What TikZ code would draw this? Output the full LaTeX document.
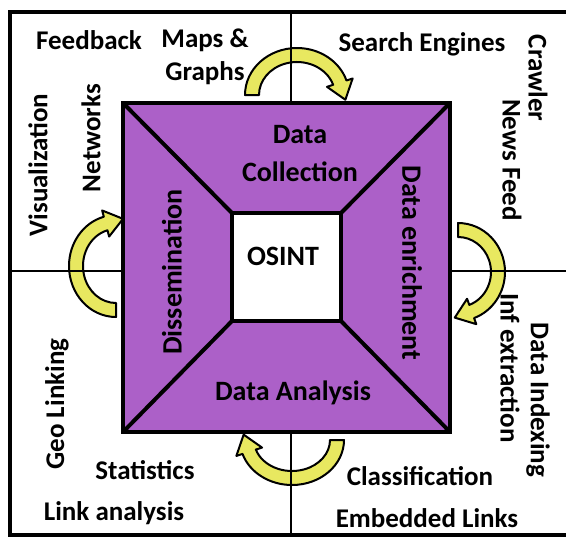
\documentclass[tikz,border=0pt]{standalone}
\usepackage{fontspec}
\setmainfont{Carlito}
\usetikzlibrary{calc}

\definecolor{petal}{RGB}{172,96,200}
\definecolor{arrowfill}{RGB}{232,232,96}

\tikzset{
  lbl/.style={font=\bfseries\fontsize{27}{30}\selectfont, inner sep=0pt, align=center},
  inlbl/.style={lbl, font=\bfseries\fontsize{28}{30}\selectfont},
  uptext/.style={lbl, rotate=90},
  downtext/.style={lbl, rotate=-90},
  frame/.style={line width=3.5pt},
  divider/.style={line width=2.2pt},
  yarrow/.style={fill=arrowfill, draw=black, line width=2pt, line join=round},
  petalbox/.style={draw=black, line width=4pt, fill=petal, minimum width=327pt,
    minimum height=329pt, inner sep=0pt, outer sep=0pt},
  corebox/.style={draw=black, line width=4pt, fill=white, minimum width=109pt,
    minimum height=108pt, inner sep=0pt, outer sep=0pt},
  diag/.style={line width=4pt},
}

% curved block arrow along an elliptic arc
% #1,#2 centre; #3,#4 radii of the band's middle; #5 tail angle;
% #6 angle where the shaft ends; #7 turn of the head (-90 clockwise, 90 counter-clockwise)
\newcommand\bentarrow[7]{%
  \coordinate (ctr) at (#1,#2);
  \coordinate (so) at ($(ctr)+({(#3+7)*cos(#5)},{(#4+7)*sin(#5)})$);
  \coordinate (eo) at ($(ctr)+({(#3+7)*cos(#6)},{(#4+7)*sin(#6)})$);
  \coordinate (ei) at ($(ctr)+({(#3-7)*cos(#6)},{(#4-7)*sin(#6)})$);
  \coordinate (em) at ($(eo)!0.5!(ei)$);
  \coordinate (wo) at ($(em)!13.5pt!(eo)$);
  \coordinate (wi) at ($(em)!13.5pt!(ei)$);
  \coordinate (tip) at ($(em)!18pt!#7:(eo)$);
  \path[yarrow] (so) arc[start angle=#5, end angle=#6, x radius={#3+7}, y radius={#4+7}]
    -- (wo) -- (tip) -- (wi) -- (ei)
    arc[start angle=#6, end angle=#5, x radius={#3-7}, y radius={#4-7}] -- cycle;
}

\begin{document}
\begin{tikzpicture}[x=1pt, y=1pt]
  \useasboundingbox (0,0) rectangle (566,-539);
  \clip (0,0) rectangle (566,-539);
  \fill[white] (0,0) rectangle (566,-539);

  % frame, open on the right
  \draw[frame] (570,-12) -- (10,-12) -- (10,-535) -- (570,-535);

  % curved arrows between the quadrants
  \bentarrow{297}{-95}{45}{40}{180}{18}{-90}
  \bentarrow{116}{-266}{40}{44}{-90}{-255}{-90}
  \bentarrow{458}{-272}{40}{42}{90}{-70}{-90}
  \bentarrow{292}{-440}{45}{38}{0}{-162}{-90}

  % quadrant dividers
  \coordinate (vtop) at (291,-12);
  \coordinate (vbot) at (291,-535);
  \coordinate (hleft) at (10,-271);
  \coordinate (hright) at (570,-271);
  \draw[divider] (vtop) -- (vbot);
  \draw[divider] (hleft) -- (hright);

  % central frustum
  \node[petalbox] (outer) at (286.5,-267.5) {};
  \node[corebox, draw=none, fill=none] (core) at (286.5,-267) {};
  \draw[diag] (outer.north west) -- (core.north west);
  \draw[diag] (outer.north east) -- (core.north east);
  \draw[diag] (outer.south west) -- (core.south west);
  \draw[diag] (outer.south east) -- (core.south east);
  \node[corebox] (corefill) at (286.5,-267) {};

  \node[inlbl] (osint) at (283,-256) {OSINT};
  \node[inlbl, font=\bfseries\fontsize{28}{38}\selectfont] (collect) at (300,-154) {Data\\Collection};
  \node[inlbl] (analysis) at (293,-393) {Data Analysis};
  \node[inlbl, rotate=-90] (enrich) at (412,-263) {Data enrichment};
  \node[inlbl, rotate=90] (dissem) at (172,-272) {Dissemination};

  % outer labels
  \node[lbl] (feedback) at (89,-40) {Feedback};
  \node[lbl, font=\bfseries\fontsize{27}{33}\selectfont] (maps) at (205,-57) {Maps \&\\Graphs};
  \node[lbl] (search) at (422,-44) {Search Engines};
  \node[downtext] (crawler) at (538,-78) {Crawler};
  \node[downtext] (news) at (512,-160) {News Feed};
  \node[uptext] (visual) at (38,-165) {Visualization};
  \node[uptext] (networks) at (91,-138) {Networks};
  \node[uptext] (geo) at (57,-404) {Geo Linking};
  \node[lbl] (stats) at (145,-470) {Statistics};
  \node[lbl] (linkan) at (114,-513) {Link analysis};
  \node[lbl] (classif) at (420,-476) {Classification};
  \node[lbl] (embedded) at (427,-518) {Embedded Links};
  \node[downtext] (indexing) at (538,-400) {Data Indexing};
  \node[downtext] (infext) at (510,-368) {Inf extraction};
\end{tikzpicture}
\end{document}
